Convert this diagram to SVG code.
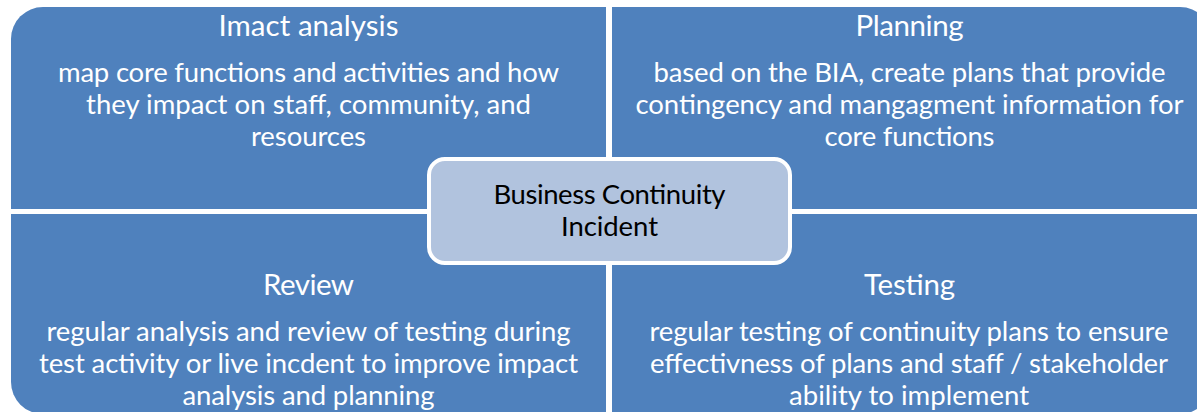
<svg xmlns="http://www.w3.org/2000/svg" width="1197" height="412" viewBox="0 0 1197 412">
  <style>
    .quad { fill: #4F81BD; }
    .hub { fill: #B1C3DE; stroke: #FFFFFF; stroke-width: 4; }
    text { font-family: Lato, "Liberation Sans", sans-serif; text-anchor: middle; }
    .title { font-size: 29.5px; fill: #FFFFFF; }
    .body { font-size: 27.5px; fill: #FFFFFF; }
    .hubtext { font-size: 27.5px; fill: #000000; }
  </style>
  <rect width="1197" height="412" fill="#FFFFFF"/>

  <!-- top-left quadrant -->
  <g id="impact-analysis">
    <path class="quad" d="M11,39 A32,32 0 0 1 43,7 H606 V209 H11 Z"/>
    <text class="title" x="308.5" y="36" textLength="180">Imact analysis</text>
    <text class="body" x="308.5" y="82" textLength="501">map core functions and activities and how</text>
    <text class="body" x="308.5" y="114" textLength="445">they impact on staff, community, and</text>
    <text class="body" x="308.5" y="146" textLength="115">resources</text>
  </g>

  <!-- top-right quadrant -->
  <g id="planning">
    <path class="quad" d="M612,7 H1180 A32,32 0 0 1 1212,39 V209 H612 Z"/>
    <text class="title" x="909.5" y="36" textLength="108">Planning</text>
    <text class="body" x="909.5" y="82" textLength="512">based on the BIA, create plans that provide</text>
    <text class="body" x="909.5" y="114" textLength="548">contingency and mangagment information for</text>
    <text class="body" x="909.5" y="146" textLength="170">core functions</text>
  </g>

  <!-- bottom-left quadrant -->
  <g id="review">
    <path class="quad" d="M11,214 H606 V414 H43 A32,32 0 0 1 11,382 Z"/>
    <text class="title" x="308.5" y="294.5" textLength="91">Review</text>
    <text class="body" x="308.5" y="340.5" textLength="524">regular analysis and review of testing during</text>
    <text class="body" x="308.5" y="372.5" textLength="539">test activity or live incdent to improve impact</text>
    <text class="body" x="308.5" y="404.5" textLength="252">analysis and planning</text>
  </g>

  <!-- bottom-right quadrant -->
  <g id="testing">
    <path class="quad" d="M612,214 H1212 V382 A32,32 0 0 1 1180,414 H612 Z"/>
    <text class="title" x="909.5" y="294.5" textLength="91">Testing</text>
    <text class="body" x="909" y="340.5" textLength="519">regular testing of continuity plans to ensure</text>
    <text class="body" x="909" y="372.5" textLength="518">effectivness of plans and staff / stakeholder</text>
    <text class="body" x="909" y="404.5" textLength="240">ability to implement</text>
  </g>

  <!-- central hub -->
  <g id="business-continuity-incident">
    <rect class="hub" x="429" y="159" width="361" height="104" rx="16" ry="16"/>
    <text class="hubtext" x="609.5" y="203.5" textLength="232">Business Continuity</text>
    <text class="hubtext" x="609.5" y="236" textLength="97">Incident</text>
  </g>
</svg>
